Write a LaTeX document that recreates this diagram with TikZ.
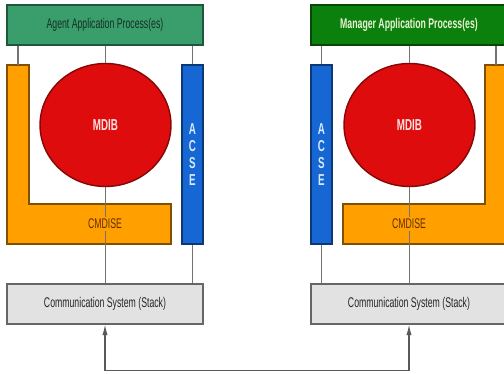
\documentclass[tikz,border=0pt]{standalone}
\usepackage{fontspec}
\newfontfamily\narrowsans{Liberation Sans}[FakeStretch=0.62]
\usetikzlibrary{shapes.geometric,arrows.meta}

\definecolor{agentgreen}{RGB}{58,158,108}
\definecolor{mgrgreen}{RGB}{12,128,12}
\definecolor{mdibred}{RGB}{222,12,12}
\definecolor{cmdorange}{RGB}{255,160,0}
\definecolor{acseblue}{RGB}{22,102,212}
\definecolor{stackgray}{RGB}{226,226,226}

\tikzset{
	appbox/.style={draw=#1!55!black, fill=#1, line width=0.8pt, minimum width=3.92cm, minimum height=0.8cm, inner sep=0pt, font=\narrowsans\fontsize{8}{9}\selectfont},
	mdibnode/.style={ellipse, draw=mdibred!60!black, fill=mdibred, line width=0.8pt, minimum width=2.62cm, minimum height=2.46cm, inner sep=0pt, text={rgb,255:red,255;green,226;blue,226}, font=\narrowsans\bfseries\fontsize{9}{10}\selectfont},
	acsebar/.style={draw=acseblue!55!black, fill=acseblue, line width=0.8pt, minimum width=0.42cm, minimum height=3.58cm, inner sep=0pt, align=center, text={rgb,255:red,214;green,234;blue,255}, font=\narrowsans\bfseries\fontsize{9}{9.8}\selectfont},
	cmdshape/.style={draw=cmdorange!50!black, fill=cmdorange, line width=0.8pt},
	cmdlabel/.style={fill=cmdorange, inner sep=1pt, text={rgb,255:red,100;green,45;blue,0}, font=\narrowsans\fontsize{8}{9}\selectfont},
	stackbox/.style={draw=black!60, fill=stackgray, line width=0.8pt, minimum width=3.92cm, minimum height=0.8cm, inner sep=0pt, text=black!85, font=\narrowsans\fontsize{8}{9}\selectfont},
	link/.style={draw=black!55, line width=0.6pt},
}

\begin{document}
\begin{tikzpicture}[x=0.02cm, y=-0.02cm]
			%%%%% START %%%%%
			\useasboundingbox (0,0) rectangle (504,374);
			
			%%%%% agent side
			\draw[cmdshape] (7,65) -- (29,65) -- (29,204) -- (171,204) -- (171,244) -- (7,244) -- cycle;
			\coordinate (cmdtopL) at (18,65);
			
			\node[appbox=agentgreen, text={rgb,255:red,20;green,48;blue,34}] (agentapp) at (105,25) {Agent Application Process(es)};
			\node[mdibnode] (mdibL) at (105.5,125) {MDIB};
			\node[acsebar] (acseL) at (192.5,154.5) {A\\C\\S\\E};
			\node[stackbox] (stackL) at (105,304) {Communication System (Stack)};
			
			\draw[link] (agentapp.south -| cmdtopL) -- (cmdtopL);
			\draw[link] (agentapp.south -| mdibL.north) -- (mdibL.north);
			\draw[link] (agentapp.south -| acseL.north) -- (acseL.north);
			\draw[link] (mdibL.south) -- (mdibL.south |- stackL.north);
			\draw[link] (acseL.south) -- (acseL.south |- stackL.north);
			
			\node[cmdlabel] (cmdL) at (105,224) {CMDISE};
			
			%%%%% manager side
			\draw[cmdshape] (507,65) -- (485,65) -- (485,204) -- (343,204) -- (343,244) -- (507,244) -- cycle;
			\coordinate (cmdtopR) at (496,65);
			
			\node[appbox=mgrgreen, text={rgb,255:red,232;green,242;blue,212}, font=\narrowsans\bfseries\fontsize{8}{9}\selectfont] (mgrapp) at (409,25) {Manager Application Process(es)};
			\node[mdibnode] (mdibR) at (409.5,125) {MDIB};
			\node[acsebar] (acseR) at (321.5,154.5) {A\\C\\S\\E};
			\node[stackbox] (stackR) at (409,304) {Communication System (Stack)};
			
			\draw[link] (mgrapp.south -| cmdtopR) -- (cmdtopR);
			\draw[link] (mgrapp.south -| mdibR.north) -- (mdibR.north);
			\draw[link] (mgrapp.south -| acseR.north) -- (acseR.north);
			\draw[link] (mdibR.south) -- (mdibR.south |- stackR.north);
			\draw[link] (acseR.south) -- (acseR.south |- stackR.north);
			
			\node[cmdlabel] (cmdR) at (409,224) {CMDISE};
			
			%%%%% stack to stack
			\draw[link, draw=black!65, {Latex[length=6pt,width=3pt]}-{Latex[length=6pt,width=3pt]}] (stackL.south) -- ++(0,46) -| (stackR.south);
			
			%%%%% END %%%%%
		\end{tikzpicture}
\end{document}
